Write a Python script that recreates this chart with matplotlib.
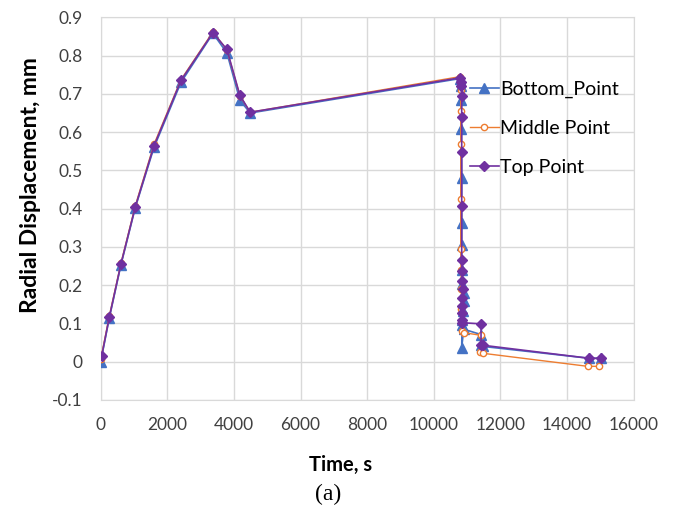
#!/usr/bin/env python3
import matplotlib
matplotlib.use('Agg')
import matplotlib.pyplot as plt

# data
bottom_t = [0, 260, 610, 1040, 1600, 2410, 3370, 3790, 4180, 4490,
            10790, 10810, 10830, 10830, 10840, 10840, 10840, 10840, 10850,
            10900, 10900, 10880, 10860, 10850, 10840, 10900, 11420, 11420,
            11480, 14670, 15020]
bottom_y = [0.0, 0.115, 0.254, 0.403, 0.56, 0.73, 0.858, 0.807, 0.683, 0.65,
            0.74, 0.72, 0.685, 0.607, 0.481, 0.363, 0.306, 0.241, 0.202,
            0.18, 0.158, 0.132, 0.11, 0.095, 0.037, 0.085, 0.071, 0.045,
            0.04, 0.009, 0.009]

middle_t = [0, 260, 610, 1040, 1600, 2410, 3370, 3790, 4180, 4490,
            10790, 10810, 10810, 10810, 10810, 10810, 10820, 10830, 10830,
            10840, 10840, 10900, 11420, 11390, 11480, 14620, 14970]
middle_y = [0.006, 0.12, 0.258, 0.408, 0.568, 0.737, 0.862, 0.815, 0.695, 0.652,
            0.745, 0.71, 0.655, 0.568, 0.426, 0.295, 0.241, 0.19, 0.137,
            0.106, 0.08, 0.076, 0.069, 0.026, 0.022, -0.012, -0.012]

top_t = [30, 260, 610, 1040, 1600, 2410, 3370, 3790, 4180, 4490,
         10790, 10820, 10830, 10840, 10840, 10840, 10840, 10840, 10850,
         10860, 10870, 10860, 10850, 10850, 10850, 10840, 11420, 11420,
         11480, 14670, 15020]
top_y = [0.015, 0.117, 0.256, 0.405, 0.564, 0.735, 0.86, 0.816, 0.696, 0.652,
         0.742, 0.73, 0.72, 0.694, 0.64, 0.549, 0.408, 0.265, 0.237,
         0.21, 0.19, 0.167, 0.145, 0.128, 0.11, 0.102, 0.099, 0.045,
         0.043, 0.009, 0.009]

xticks = [0, 2000, 4000, 6000, 8000, 10000, 12000, 14000, 16000]
yticks = [-0.1, 0, 0.1, 0.2, 0.3, 0.4, 0.5, 0.6, 0.7, 0.8, 0.9]
ytick_labels = ['-0.1', '0', '0.1', '0.2', '0.3', '0.4', '0.5', '0.6', '0.7', '0.8', '0.9']

plt.rcParams['font.family'] = ['Lato', 'DejaVu Sans']

fig = plt.figure(figsize=(6.74, 5.14), dpi=100)
ax = fig.add_axes([0.1494, 0.2218, 0.7906, 0.7445])

ax.plot(bottom_t, bottom_y, color='#4472C4', lw=1.2, marker='^', ms=7,
        label='Bottom_Point', zorder=3)
ax.plot(middle_t, middle_y, color='#ED7D31', lw=1.0, marker='o', ms=4.5,
        mfc='white', mec='#ED7D31', mew=1.0, label='Middle Point', zorder=4)
ax.plot(top_t, top_y, color='#7030A0', lw=1.2, marker='D', ms=5,
        label='Top Point', zorder=5)

ax.set_xlim(0, 16000)
ax.set_ylim(-0.1, 0.9)
ax.set_xticks(xticks)
ax.set_xticklabels([str(v) for v in xticks])
ax.set_yticks(yticks)
ax.set_yticklabels(ytick_labels)
ax.tick_params(length=0, labelsize=12.5, colors='#404040')
ax.tick_params(axis='y', pad=13)
ax.tick_params(axis='x', pad=12)
ax.grid(True, color='#d9d9d9', lw=1.0)
ax.set_axisbelow(True)
for s in ax.spines.values():
    s.set_color('#d9d9d9')

ax.set_xlabel('Time, s', fontsize=14.5, fontweight='bold', labelpad=16)
ax.set_ylabel('Radial Displacement, mm', fontsize=16.5, fontweight='bold', labelpad=8)
ax.xaxis.label.set_x(0.451)
ax.yaxis.label.set_y(0.562)

ax.legend(loc='upper left', bbox_to_anchor=(0.66, 0.88), frameon=False,
          fontsize=14, handlelength=1.5, handletextpad=0.05, labelspacing=1.12)

fig.text(0.487, 0.028, '(a)', fontsize=17, family='Liberation Serif', ha='center')

plt.savefig('out.png', dpi=100)
